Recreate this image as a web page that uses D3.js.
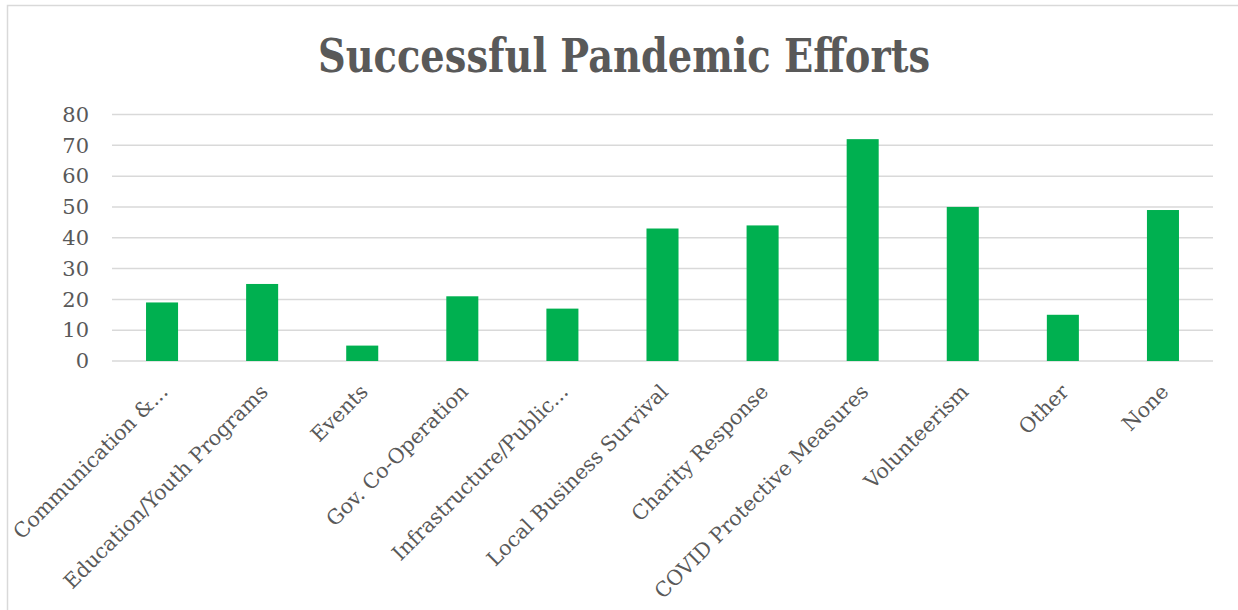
<!DOCTYPE html>
<html>
<head>
<meta charset="utf-8">
<script src="https://cdn.jsdelivr.net/npm/d3@7"></script>
<style>
  body { margin: 0; background: #fff; }
  text { font-family: "DejaVu Serif", "Liberation Serif", serif; fill: #595959; }
</style>
</head>
<body>
<svg id="chart" width="1238" height="610"></svg>
<script>
// data
var categories = ["Communication &...", "Education/Youth Programs", "Events", "Gov. Co-Operation",
  "Infrastructure/Public...", "Local Business Survival", "Charity Response",
  "COVID Protective Measures", "Volunteerism", "Other", "None"];
var counts = [19, 25, 5, 21, 17, 43, 44, 72, 50, 15, 49];
var yTicks = [0, 10, 20, 30, 40, 50, 60, 70, 80];
var chartTitle = "Successful Pandemic Efforts";

var svg = d3.select("#chart");

// chart frame
svg.append("rect")
  .attr("x", 7.5).attr("y", 5.5)
  .attr("width", 1240).attr("height", 620)
  .attr("fill", "none")
  .attr("stroke", "#d9d9d9")
  .attr("stroke-width", 1.5);

var margin = {left: 112, right: 25, top: 114.5, bottom: 249};
var width = 1238 - margin.left - margin.right,
    height = 610 - margin.top - margin.bottom;

var x = d3.scaleBand().domain(categories).range([0, width]).paddingInner(0.68).paddingOuter(0.34);
var y = d3.scaleLinear().domain([0, 80]).range([height, 0]);

var g = svg.append("g").attr("transform", "translate(" + margin.left + "," + margin.top + ")");

// title
svg.append("text")
  .attr("x", 624).attr("y", 72)
  .attr("text-anchor", "middle")
  .attr("textLength", 612)
  .attr("lengthAdjust", "spacingAndGlyphs")
  .style("font-size", "47px")
  .style("font-weight", "bold")
  .text(chartTitle);

// gridlines
g.append("g").selectAll("line")
  .data(yTicks)
  .enter().append("line")
  .attr("x1", 0).attr("x2", width)
  .attr("y1", function(d) { return y(d); })
  .attr("y2", function(d) { return y(d); })
  .attr("stroke", "#d9d9d9")
  .attr("stroke-width", 1.5);

// y axis
var yAxis = g.append("g")
  .call(d3.axisLeft(y).tickValues(yTicks).tickSize(0).tickPadding(23));
yAxis.select(".domain").remove();
yAxis.selectAll("text")
  .style("font-size", "21px")
  .attr("fill", "#595959");

// bars
g.append("g").selectAll("rect")
  .data(counts)
  .enter().append("rect")
  .attr("x", function(d, i) { return x(categories[i]); })
  .attr("y", function(d) { return y(d); })
  .attr("width", x.bandwidth())
  .attr("height", function(d) { return height - y(d); })
  .attr("fill", "#00b050");

// category labels, rotated
var xAxis = g.append("g")
  .attr("transform", "translate(0," + height + ")")
  .call(d3.axisBottom(x).tickSize(0).tickPadding(0));
xAxis.select(".domain").remove();
xAxis.selectAll("text")
  .attr("fill", "#595959")
  .style("font-size", "20.5px")
  .attr("text-anchor", "end")
  .attr("dy", null)
  .attr("y", 0)
  .attr("transform", "translate(7,32) rotate(-45)");
</script>
</body>
</html>
